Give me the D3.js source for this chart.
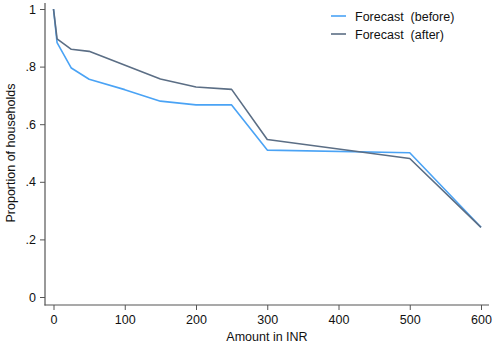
<!DOCTYPE html>
<html>
<head>
<meta charset="utf-8">
<script src="https://cdn.jsdelivr.net/npm/d3@7"></script>
<style>
  body { margin: 0; background: #fff; }
  text { font-family: "Liberation Sans", Arial, sans-serif; }
</style>
</head>
<body>
<div id="chart"></div>
<script>
// amounts (INR) and proportions
let amounts = [0, 5, 25, 50, 100, 150, 200, 250, 300, 500, 600]
let before  = [1, 0.883, 0.795, 0.756, 0.72, 0.68, 0.667, 0.667, 0.51, 0.501, 0.242]
let after   = [1, 0.896, 0.86, 0.853, null, 0.757, 0.729, 0.721, 0.547, 0.481, 0.242]

let xTicks = [0, 100, 200, 300, 400, 500, 600]
let yTicks = [0, 0.2, 0.4, 0.6, 0.8, 1]
let seriesNames = ["Forecast  (before)", "Forecast  (after)"]
let colors = ["#4aa3f5", "#5b6e85"]

let svg_width = 493
let svg_height = 346

let svg = d3.select("#chart")
  .append("svg")
  .attr("width", svg_width)
  .attr("height", svg_height)

let xScale = d3.scaleLinear().domain([0, 600]).range([53.5, 481])
let yScale = d3.scaleLinear().domain([0, 1]).range([297, 9])

let axisColor = "#555"

// axis lines (span a bit wider than the data range, like the original)
svg.append("line")
   .attr("x1", 45).attr("x2", 45).attr("y1", 3).attr("y2", 305.5)
   .attr("stroke", axisColor).attr("stroke-width", 1.2)
svg.append("line")
   .attr("x1", 44.5).attr("x2", 489).attr("y1", 305).attr("y2", 305)
   .attr("stroke", axisColor).attr("stroke-width", 1.2)

function styleAxis(g) {
  g.select(".domain").remove()
  g.selectAll(".tick line").attr("stroke", axisColor).attr("stroke-width", 1)
  g.selectAll(".tick text")
   .attr("fill", "#111")
   .style("font-size", "12.5px")
   .style("font-family", "'Liberation Sans', Arial, sans-serif")
}

svg.append("g")
   .attr("transform", "translate(0,305)")
   .call(d3.axisBottom(xScale).tickValues(xTicks).tickSize(5).tickPadding(5))
   .call(styleAxis)

svg.append("g")
   .attr("transform", "translate(45,0)")
   .call(d3.axisLeft(yScale).tickValues(yTicks).tickSize(5).tickPadding(4)
           .tickFormat(d => d === 0 ? "0" : d === 1 ? "1" : d3.format(".1f")(d).replace(/^0/, "")))
   .call(styleAxis)

// axis titles
svg.append("text")
   .attr("x", 267).attr("y", 341)
   .attr("text-anchor", "middle")
   .style("font-size", "12.5px")
   .attr("fill", "#111")
   .text("Amount in INR")

svg.append("text")
   .attr("transform", "translate(15,153) rotate(-90)")
   .attr("text-anchor", "middle")
   .style("font-size", "12.5px")
   .attr("fill", "#111")
   .text("Proportion of households")

// lines
let line = d3.line()
  .defined(d => d[1] !== null)
  .x(d => xScale(d[0]))
  .y(d => yScale(d[1]))

let series = [before, after].map(vals => d3.zip(amounts, vals).filter(d => d[1] !== null))

svg.selectAll("path.series")
   .data(series)
   .enter()
   .append("path")
   .attr("class", "series")
   .attr("d", line)
   .attr("fill", "none")
   .attr("stroke", (d, i) => colors[i])
   .attr("stroke-width", 1.6)
   .attr("stroke-linejoin", "round")

// legend
let legend = svg.selectAll("g.legend")
  .data(seriesNames)
  .enter()
  .append("g")
  .attr("class", "legend")
  .attr("transform", (d, i) => `translate(331,${16 + i * 18})`)

legend.append("line")
  .attr("x1", 0).attr("x2", 15)
  .attr("stroke", (d, i) => colors[i])
  .attr("stroke-width", 1.6)

legend.append("text")
  .attr("x", 24).attr("y", 4.5)
  .style("font-size", "12.5px")
  .style("white-space", "pre")
  .attr("fill", "#111")
  .text(d => d)
</script>
</body>
</html>
